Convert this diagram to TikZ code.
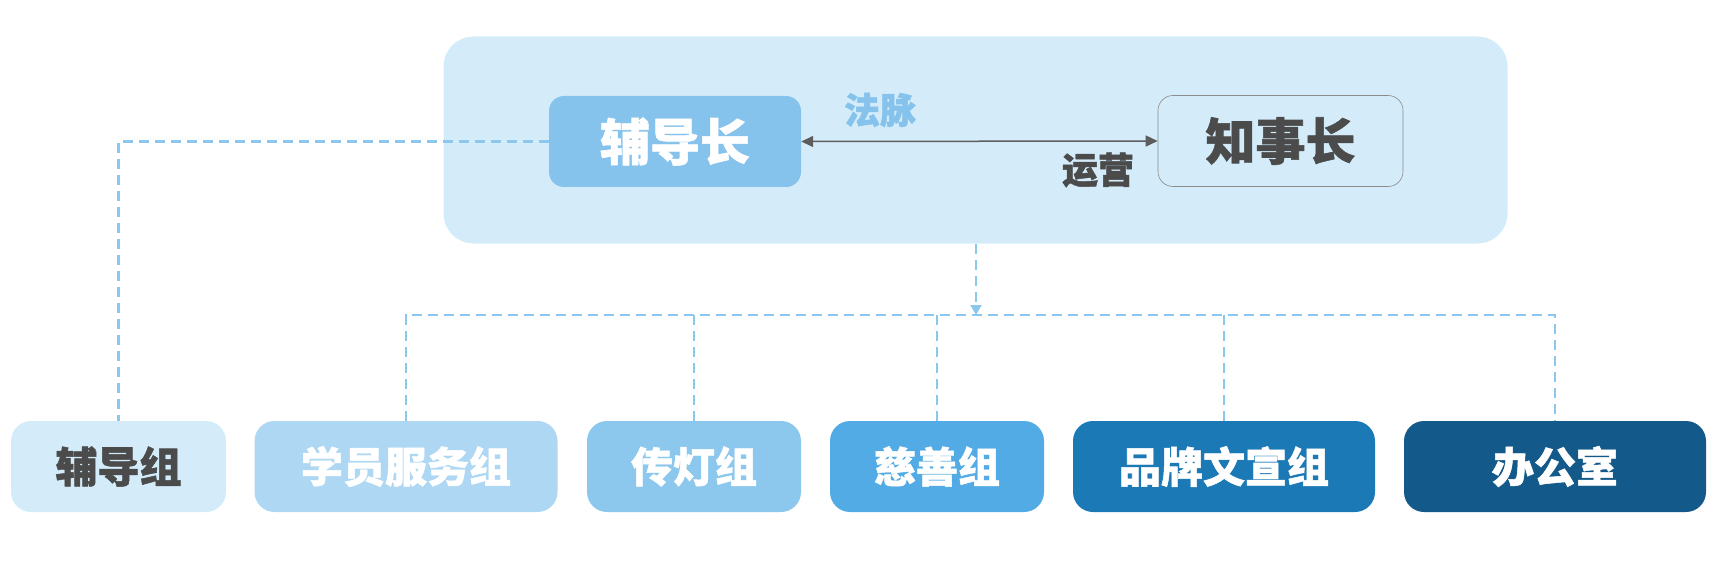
\documentclass[tikz,border=0pt]{standalone}
\usepackage{fontspec}
\setmainfont{Noto Sans CJK SC}[BoldFeatures={FakeBold=1.2}]
\usetikzlibrary{arrows.meta}
\definecolor{bgblue}{HTML}{D4ECF9}
\definecolor{cA}{HTML}{D4ECF9}
\definecolor{cB}{HTML}{AED7F3}
\definecolor{cC}{HTML}{8CC7EE}
\definecolor{cD}{HTML}{53ABE5}
\definecolor{cE}{HTML}{1B79B5}
\definecolor{cF}{HTML}{135A8A}
\definecolor{headblue}{HTML}{85C2EC}
\definecolor{lineblue}{HTML}{8CC7EE}
\definecolor{darktext}{HTML}{4B4B4B}
\definecolor{bordergray}{HTML}{8A8A8A}
\begin{document}
\begin{tikzpicture}[x=1pt,y=-1pt,
  groupbox/.style={rectangle, rounded corners=20pt, minimum height=91pt, inner sep=0pt,
    font=\fontsize{42}{42}\selectfont\bfseries, text=white},
  headbox/.style={rectangle, rounded corners=15pt, minimum height=91pt, inner sep=0pt,
    font=\fontsize{50}{50}\selectfont\bfseries},
  conn/.style={draw=lineblue, line width=2.2pt, dash pattern=on 10pt off 6pt},
  lbl/.style={inner sep=0pt, font=\fontsize{36}{36}\selectfont\bfseries}
]
\useasboundingbox (0,0) rectangle (1715,564);
% top container
\node[rectangle, rounded corners=30pt, fill=bgblue, minimum width=1064pt, minimum height=207pt] (top) at (975.5,140) {};
\node[headbox, fill=headblue, text=white, minimum width=252pt] (fdz) at (675,141.5) {辅导长};
\node[headbox, fill=bgblue, draw=bordergray, line width=0.6pt, text=darktext, minimum width=245pt] (zsz) at (1280.5,141) {知事长};
\draw[draw=darktext!90, line width=1.5pt, {Triangle[length=12pt,width=11pt]}-{Triangle[length=12pt,width=11pt]}] (fdz.east) -- (zsz.west);
\node[lbl, text=headblue] (fm) at (880,110) {法脉};
\node[lbl, text=darktext] (yy) at (1098,170) {运营};
% groups
\node[groupbox, fill=cA, text=darktext, minimum width=215pt] (g1) at (118.5,466.5) {辅导组};
\node[groupbox, fill=cB, minimum width=303pt] (g2) at (406,466.5) {学员服务组};
\node[groupbox, fill=cC, minimum width=214pt] (g3) at (694,466.5) {传灯组};
\node[groupbox, fill=cD, minimum width=214pt] (g4) at (937,466.5) {慈善组};
\node[groupbox, fill=cE, minimum width=302pt] (g5) at (1224,466.5) {品牌文宣组};
\node[groupbox, fill=cF, minimum width=302pt] (g6) at (1555,466.5) {办公室};
% connectors
\coordinate (bus) at (976,315);
\draw[conn] (fdz.west) -| (g1.north);
\draw[conn, -{Triangle[length=10pt,width=11pt]}] (top.south -| bus) -- (bus);
\draw[conn] (g2.north) -- (g2.north |- bus) -- (g6.north |- bus) -- (g6.north);
\draw[conn] (g3.north |- bus) -- (g3.north);
\draw[conn] (g4.north |- bus) -- (g4.north);
\draw[conn] (g5.north |- bus) -- (g5.north);
\end{tikzpicture}
\end{document}
